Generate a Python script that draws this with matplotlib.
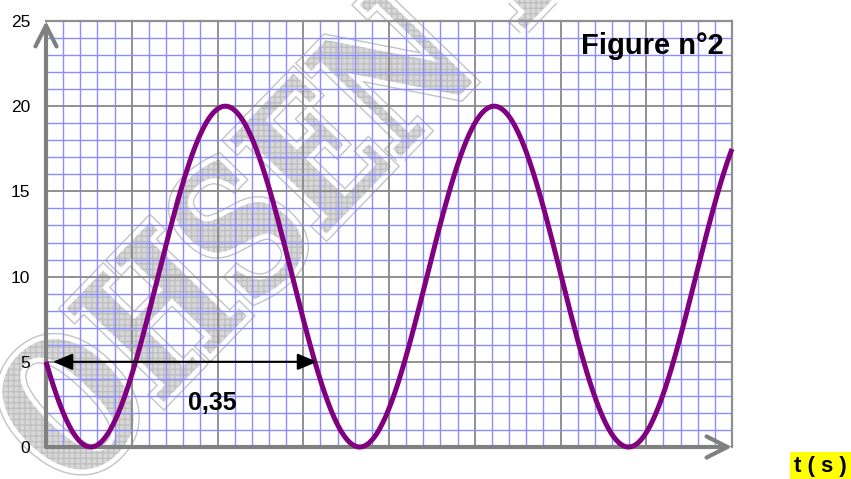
import numpy as np
import matplotlib
matplotlib.use("Agg")
import matplotlib.pyplot as plt
from matplotlib.textpath import TextPath
from matplotlib.font_manager import FontProperties
from matplotlib.patches import PathPatch
from matplotlib.transforms import Affine2D

plt.rcParams["font.family"] = ["Liberation Sans", "DejaVu Sans"]

# signal
period = 0.35          # s, marked by the double arrow
y_low, y_high = 0, 20  # minimum / maximum of the curve
y_start = 5            # value at t = 0 (decreasing)
t_max = 0.893          # right edge of the grid

y_ticks = [0, 5, 10, 15, 20, 25]
arrow_start, arrow_end = 0.009, 0.353
period_label = "0,35"
label_t = 0.216
watermark = "OHSEN E"

mid = (y_low + y_high) / 2
amp = (y_high - y_low) / 2
phase = np.arccos((y_start - mid) / amp)
t = np.linspace(0, t_max, 1000)
y = mid + amp * np.cos(2 * np.pi * t / period + phase)

W, H = 851, 479
fig = plt.figure(figsize=(W / 100, H / 100), dpi=100)
fig.patch.set_facecolor("white")
ax = fig.add_axes([46 / W, 1 - 447 / H, 686 / W, 426 / H])
ax.set_facecolor("none")

# watermark behind the grid
fp = FontProperties(family="DejaVu Serif", weight="bold")
tp = TextPath((0, 0), watermark, size=185, prop=fp)
tr = Affine2D().scale(0.76, 1.0).rotate_deg(46).translate(74, -16)
for kw in [dict(fc="none", ec="#c4c4c4", lw=9),
           dict(fc="white", ec="white", lw=7),
           dict(fc="#d8d8d8", ec="#c0c0c0", lw=0, hatch="+++")]:
    p = PathPatch(tp, transform=tr, zorder=-2, **kw)
    fig.add_artist(p)

ax.set_xlim(0, t_max)
ax.set_ylim(0, 25)
ax.set_xticks(np.linspace(0, t_max, 9))
ax.set_xticks(np.linspace(0, t_max, 41), minor=True)
ax.set_yticks(y_ticks)
ax.set_yticks(np.arange(0, 26, 1), minor=True)
ax.set_xticklabels([])
ax.tick_params(which="both", length=0)
ax.tick_params(axis="y", pad=11.5, labelsize=12.5)
ax.grid(which="minor", color="#8c8cff", lw=1.0)
ax.grid(which="major", color="#888888", lw=1.3)
ax.set_axisbelow(True)

for s in ["top", "right"]:
    ax.spines[s].set_color("#909090")
    ax.spines[s].set_linewidth(1.6)
for s in ["left", "bottom"]:
    ax.spines[s].set_visible(False)

axis_arrow = dict(arrowstyle="->,head_length=0.75,head_width=0.38", color="#808080",
                  lw=3, mutation_scale=20, shrinkA=0, shrinkB=0)
ax.annotate("", xy=(0, 1), xytext=(0, 0), xycoords="axes fraction",
            textcoords="axes fraction", arrowprops=axis_arrow, zorder=2.5)
ax.annotate("", xy=(1, 0), xytext=(0, 0), xycoords="axes fraction",
            textcoords="axes fraction", arrowprops=axis_arrow, zorder=2.5)

ax.plot(t, y, color="#800080", lw=3.6, zorder=3, clip_on=False,
        solid_capstyle="butt")

ax.annotate("", xy=(arrow_end, y_start), xytext=(arrow_start, y_start),
            arrowprops=dict(arrowstyle="<|-|>,head_length=0.6,head_width=0.25",
                            color="black", lw=1.5, mutation_scale=20,
                            shrinkA=0, shrinkB=0), zorder=4)
ax.text(label_t, 2.2, period_label, ha="center", va="baseline",
        fontsize=18, fontweight="bold", zorder=5)

fig.text(724 / W, 1 - 54 / H, "Figure n°2", ha="right", va="baseline",
         fontsize=21, fontweight="bold")
fig.text(847 / W, 1 - 472 / H, "t ( s )", ha="right", va="baseline",
         fontsize=16, fontweight="bold",
         bbox=dict(facecolor="#ffff00", edgecolor="none", pad=2.8))

fig.savefig("out.png", dpi=100)
